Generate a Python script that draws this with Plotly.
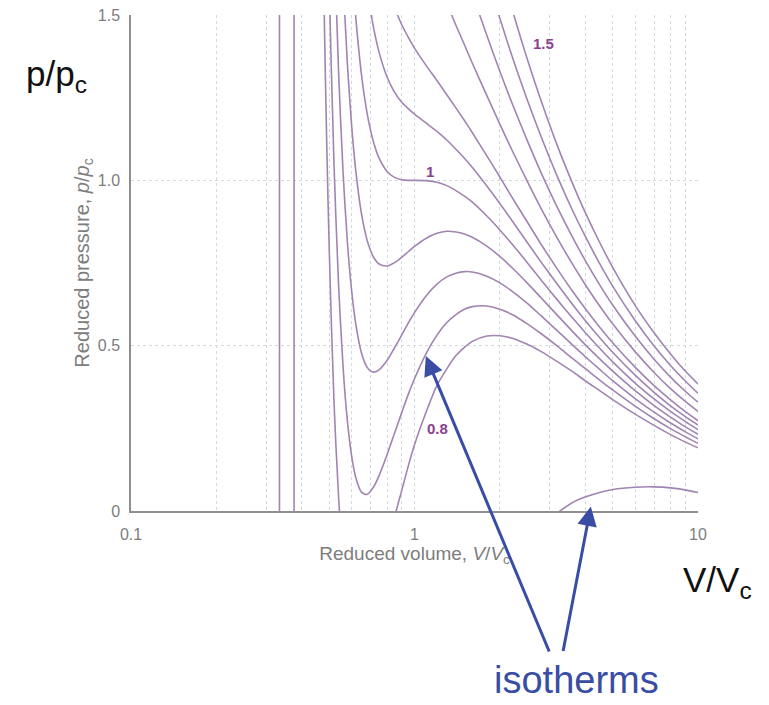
import math
import plotly.graph_objects as go

# ---------------- data ----------------
reduced_volume = [0.46, 0.47, 0.48, 0.49, 0.50, 0.52, 0.54, 0.56, 0.58, 0.60,
                  0.62, 0.65, 0.68, 0.70, 0.72, 0.75, 0.80, 0.85, 0.90, 0.95,
                  1.0, 1.1, 1.2, 1.3, 1.4, 1.5, 1.6, 1.8, 2.0, 2.2,
                  2.5, 2.8, 3.2, 3.6, 4.0, 4.5, 5, 6, 7, 8, 9, 10]
N = None
p_T080 = [N, 2.03, 1.52, 1.12, 0.80, 0.33, 0.04, -0.15, -0.27, -0.33,
          -0.36, -0.36, -0.33, -0.30, -0.27, -0.21, -0.12, -0.02, 0.06, 0.135,
          0.20, 0.30, 0.38, 0.43, 0.47, 0.495, 0.513, 0.529, 0.53, 0.523,
          0.504, 0.482, 0.451, 0.422, 0.394, 0.364, 0.337, 0.293, 0.259, 0.231, 0.209, 0.191]
p_T085 = [N, N, N, 1.97, 1.60, 1.05, 0.68, 0.434, 0.271, 0.167,
          0.103, 0.057, 0.050, 0.060, 0.075, 0.107, 0.170, 0.235, 0.296, 0.352,
          0.40, 0.477, 0.532, 0.570, 0.594, 0.610, 0.618, 0.620, 0.61, 0.595,
          0.566, 0.536, 0.498, 0.462, 0.431, 0.396, 0.366, 0.317, 0.279, 0.249, 0.225, 0.2045]
p_T090 = [N, N, N, N, 2.40, 1.76, 1.325, 1.022, 0.812, 0.667,
          0.568, 0.478, 0.435, 0.423, 0.420, 0.427, 0.455, 0.493, 0.531, 0.568,
          0.60, 0.651, 0.686, 0.708, 0.719, 0.724, 0.723, 0.710, 0.69, 0.666,
          0.628, 0.590, 0.544, 0.503, 0.467, 0.428, 0.394, 0.340, 0.299, 0.266, 0.240, 0.218]
p_T095 = [N, N, N, N, N, 2.48, 1.97, 1.61, 1.35, 1.167,
          1.033, 0.899, 0.820, 0.787, 0.765, 0.747, 0.741, 0.751, 0.767, 0.784,
          0.80, 0.825, 0.840, 0.846, 0.844, 0.838, 0.828, 0.801, 0.77, 0.737,
          0.689, 0.644, 0.591, 0.544, 0.503, 0.460, 0.423, 0.364, 0.319, 0.284, 0.255, 0.232]
p_T100 = [N, N, N, N, N, N, 2.62, 2.20, 1.89, 1.667,
          1.498, 1.320, 1.204, 1.151, 1.110, 1.067, 1.027, 1.009, 1.002, 1.000,
          1.000, 0.999, 0.994, 0.984, 0.969, 0.952, 0.934, 0.892, 0.85, 0.809,
          0.751, 0.698, 0.637, 0.585, 0.540, 0.492, 0.451, 0.387, 0.339, 0.301, 0.271, 0.246]
p_T105 = [N, N, N, N, N, N, N, N, N, 2.17,
          1.96, 1.74, 1.59, 1.514, 1.454, 1.387, 1.3125, 1.267, 1.237, 1.217,
          1.20, 1.173, 1.148, 1.122, 1.094, 1.067, 1.039, 0.983, 0.93, 0.880,
          0.812, 0.752, 0.684, 0.626, 0.576, 0.524, 0.48, 0.411, 0.359, 0.318, 0.286, 0.260]
p_T110 = [N, N, N, N, N, N, N, N, N, N,
          N, N, N, N, N, 1.71, 1.60, 1.525, 1.472, 1.433,
          1.40, 1.347, 1.302, 1.259, 1.219, 1.181, 1.144, 1.074, 1.01, 0.951,
          0.874, 0.806, 0.730, 0.666, 0.6125, 0.556, 0.509, 0.435, 0.379, 0.336, 0.301, 0.273]
p_T120 = [N, N, N, N, N, N, N, N, N, N,
          N, N, N, N, N, N, N, N, N, N,
          N, 1.70, 1.61, 1.535, 1.469, 1.410, 1.354, 1.256, 1.17, 1.094,
          0.997, 0.914, 0.823, 0.748, 0.685, 0.620, 0.566, 0.482, 0.419, 0.370, 0.332, 0.301]
p_T130 = [N, N, N, N, N, N, N, N, N, N,
          N, N, N, N, N, N, N, N, N, N,
          N, N, N, N, 1.72, 1.64, 1.565, 1.438, 1.33, 1.237,
          1.12, 1.022, 0.916, 0.830, 0.758, 0.684, 0.623, 0.529, 0.459, 0.405, 0.363, 0.329]
p_T140 = [N, N, N, N, N, N, N, N, N, N,
          N, N, N, N, N, N, N, N, N, N,
          N, N, N, N, N, N, 1.78, 1.62, 1.49, 1.38,
          1.243, 1.131, 1.009, 0.911, 0.831, 0.748, 0.68, 0.576, 0.499, 0.440, 0.394, 0.356]
p_T150 = [N, N, N, N, N, N, N, N, N, N,
          N, N, N, N, N, N, N, N, N, N,
          N, N, N, N, N, N, N, 1.80, 1.65, 1.523,
          1.366, 1.239, 1.102, 0.993, 0.903, 0.812, 0.737, 0.622, 0.539, 0.475, 0.424, 0.384]
p_low = [N, N, N, N, N, N, N, N, N, N,
         N, N, N, N, N, N, N, N, N, N,
         N, N, N, N, N, N, N, N, N, N,
         N, N, -0.005, 0.025, 0.042, 0.056, 0.065, 0.072, 0.073, 0.070, 0.064, 0.056]

# near-vertical steep branches close to V/Vc = 1/3
steep_volume_a = [0.334, 0.334]
steep_volume_b = [0.376, 0.376]
steep_pressure = [-0.1, 1.6]

isotherm_series = [p_T080, p_T085, p_T090, p_T095, p_T100, p_T105,
                   p_T110, p_T120, p_T130, p_T140, p_T150, p_low]

curve_labels = ["1.5", "1", "0.8"]
curve_label_v = [2.84, 1.134, 1.21]
curve_label_p = [1.413, 1.027, 0.25]

x_ticks = [0.1, 1, 10]
x_tick_text = ["0.1", "1", "10"]
x_minor = [0.2, 0.3, 0.4, 0.5, 0.6, 0.7, 0.8, 0.9, 2, 3, 4, 5, 6, 7, 8, 9]
y_ticks = [0, 0.5, 1.0, 1.5]
y_tick_text = ["0", "0.5", "1.0", "1.5"]

# ---------------- styles ----------------
LINE_COLOR = "#a184b2"
LABEL_COLOR = "#8a3f8f"
GRID_COLOR = "#d2d9df"
AXIS_COLOR = "#8f8f8f"
TEXT_GRAY = "#7d7d7d"
BLUE = "#3a4da6"
FONT = "Liberation Sans, Arial, sans-serif"

fig = go.Figure()
for series in isotherm_series:
    fig.add_trace(go.Scatter(x=reduced_volume, y=series, mode="lines",
                             line=dict(color=LINE_COLOR, width=1.6, shape="spline", smoothing=0.8),
                             hoverinfo="skip"))
for sv in (steep_volume_a, steep_volume_b):
    fig.add_trace(go.Scatter(x=sv, y=steep_pressure, mode="lines",
                             line=dict(color=LINE_COLOR, width=1.6), hoverinfo="skip"))

for t, v, p in zip(curve_labels, curve_label_v, curve_label_p):
    fig.add_annotation(x=math.log10(v), y=p, xref="x", yref="y", text="<b>" + t + "</b>",
                       showarrow=False, font=dict(family=FONT, size=15, color=LABEL_COLOR))

# big slide-style labels
fig.add_annotation(xref="paper", yref="paper", x=-0.132, y=0.877, text="p/p<sub>c</sub>",
                   showarrow=False, xanchor="center", yanchor="middle",
                   font=dict(family=FONT, size=35, color="#111111"))
fig.add_annotation(xref="paper", yref="paper", x=1.035, y=-0.143, text="V/V<sub>c</sub>",
                   showarrow=False, xanchor="center", yanchor="middle",
                   font=dict(family=FONT, size=35, color="#111111"))
fig.add_annotation(xref="paper", yref="paper", x=0.785, y=-0.388, text="isotherms",
                   showarrow=False, xanchor="center", yanchor="bottom",
                   font=dict(family=FONT, size=38, color=BLUE))
# arrows
fig.add_annotation(xref="paper", yref="paper", x=0.520, y=0.3125, text="", showarrow=True,
                   ax=124, ay=297, arrowhead=2, arrowsize=1.3, arrowwidth=3, arrowcolor=BLUE,
                   standoff=0)
fig.add_annotation(xref="paper", yref="paper", x=0.811, y=0.009, text="", showarrow=True,
                   ax=-28, ay=146, arrowhead=2, arrowsize=1.3, arrowwidth=3, arrowcolor=BLUE,
                   standoff=0)

fig.update_xaxes(type="log", range=[-1, 1], tickvals=x_ticks, ticktext=x_tick_text,
                 showgrid=True, gridcolor=GRID_COLOR, griddash="dot", gridwidth=1,
                 minor=dict(tickvals=x_minor, showgrid=True, gridcolor=GRID_COLOR,
                            griddash="dot", gridwidth=1, ticks=""),
                 showline=True, linecolor=AXIS_COLOR, linewidth=1.5, ticks="",
                 zeroline=False, tickfont=dict(family=FONT, size=16, color=TEXT_GRAY),
                 ticklabelstandoff=8, automargin=False,
                 title=dict(text="Reduced volume, <i>V</i>/<i>V</i><sub>c</sub>",
                            font=dict(family=FONT, size=19, color=TEXT_GRAY), standoff=0))
fig.update_yaxes(range=[0, 1.5], tickvals=y_ticks, ticktext=y_tick_text,
                 showgrid=True, gridcolor=GRID_COLOR, griddash="dot", gridwidth=1,
                 showline=True, linecolor=AXIS_COLOR, linewidth=1.5, ticks="",
                 zeroline=False, tickfont=dict(family=FONT, size=16, color=TEXT_GRAY),
                 ticklabelstandoff=6, automargin=False,
                 title=dict(text="Reduced pressure, <i>p</i>/<i>p</i><sub>c</sub>",
                            font=dict(family=FONT, size=20, color=TEXT_GRAY), standoff=3))

fig.update_layout(width=769, height=705, margin=dict(l=131, r=71, t=15, b=194),
                  paper_bgcolor="white", plot_bgcolor="white", showlegend=False)

fig.write_html("out.html")
